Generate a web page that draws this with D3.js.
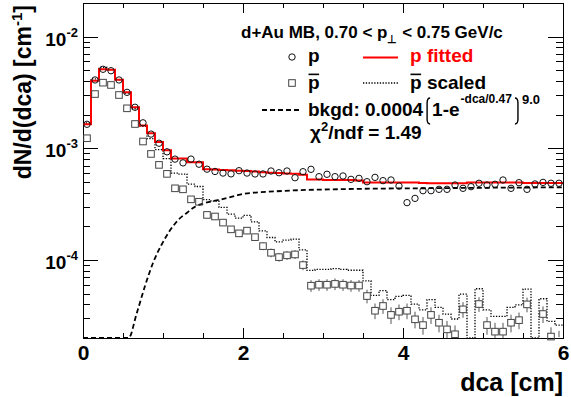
<!DOCTYPE html>
<html>
<head>
<meta charset="utf-8">
<style>
body { margin: 0; background: #fff; }
svg { display: block; }
text { font-family: "Liberation Sans", Arial, Helvetica, sans-serif; font-weight: bold; fill: #000; }
</style>
</head>
<body>
<script src="https://d3js.org/d3.v7.min.js"></script>
<script>

// 60 bins of 0.1 cm between 0 and 6 cm
var binWidth = 0.1;

// protons (open circles)
var pVals = [1.64e-3, 4.09e-3, 5.1e-3, 4.95e-3, 4.09e-3, 3.17e-3, 2.33e-3, 1.69e-3, 1.34e-3, 1.11e-3,
             9.3e-4, 8.0e-4, 7.4e-4, 8.0e-4, 7.2e-4, 6.5e-4, 6.2e-4, 6.0e-4, 5.9e-4, 6.3e-4,
             6.0e-4, 5.89e-4, 5.89e-4, 6.26e-4, 6.04e-4, 6.26e-4, 5.45e-4, 6.17e-4, 6.48e-4, 5.57e-4,
             5.85e-4, 5.57e-4, 5.65e-4, 5.27e-4, 5.38e-4, 5.02e-4, 5.49e-4, 5.13e-4, 5.2e-4, 4.59e-4,
             3.26e-4, 3.56e-4, 4.17e-4, 4.17e-4, 4.29e-4, 4.29e-4, 4.69e-4, 4.38e-4, 4.53e-4, 4.86e-4,
             4.69e-4, 4.76e-4, 5.2e-4, 4.38e-4, 4.92e-4, 4.29e-4, 4.79e-4, 4.95e-4, 4.86e-4, 4.86e-4];

// fitted proton histogram (red)
var pFit = [1.64e-3, 4.03e-3, 5.1e-3, 5.05e-3, 4.1e-3, 3.17e-3, 2.33e-3, 1.6e-3, 1.36e-3, 1.14e-3,
            9.6e-4, 8.1e-4, 8.1e-4, 7.5e-4, 7.5e-4, 6.5e-4, 6.45e-4, 6.4e-4, 6.35e-4, 6.3e-4,
            6.25e-4, 6.2e-4, 6.1e-4, 6.05e-4, 6.0e-4, 5.95e-4, 5.9e-4, 5.8e-4, 5.25e-4, 5.25e-4,
            5.2e-4, 5.2e-4, 5.2e-4, 5.2e-4, 5.15e-4, 4.95e-4, 4.95e-4, 4.95e-4, 4.95e-4, 4.95e-4,
            4.95e-4, 4.95e-4, 4.9e-4, 4.85e-4, 4.85e-4, 4.85e-4, 4.85e-4, 4.85e-4, 4.95e-4, 4.95e-4,
            4.95e-4, 4.95e-4, 4.95e-4, 4.95e-4, 4.95e-4, 4.9e-4, 4.9e-4, 4.9e-4, 4.9e-4, 4.9e-4];

// antiprotons (open squares) and their relative errors
var pbarVals = [1.23e-3, 3.06e-3, 3.87e-3, 3.69e-3, 3.0e-3, 2.28e-3, 1.65e-3, 1.15e-3, 8.9e-4, 7.1e-4,
                5.9e-4, 4.38e-4, 4.29e-4, 3.49e-4, 3.32e-4, 2.53e-4, 2.45e-4, 2.16e-4, 1.88e-4, 1.73e-4,
                1.83e-4, 1.6e-4, 1.33e-4, 1.16e-4, 1.06e-4, 1.1e-4, 1.12e-4, 9.0e-5, 5.88e-5, 6.0e-5,
                6.0e-5, 6.1e-5, 6.0e-5, 5.9e-5, 5.9e-5, 4.75e-5, 3.51e-5, 3.87e-5, 3.22e-5, 3.44e-5,
                3.51e-5, 2.94e-5, 2.61e-5, 3.22e-5, 2.74e-5, 2.39e-5, 2.16e-5, 3.61e-5, 1.2e-5, 4.03e-5,
                2.61e-5, 2.28e-5, 2.28e-5, 2.74e-5, 2.89e-5, 4.0e-5, 1.3e-5, 3.28e-5, 2.06e-5, 1.9e-5];
var pbarRelErr = [0.03, 0.02, 0.02, 0.02, 0.02, 0.02, 0.03, 0.03, 0.03, 0.04,
                  0.04, 0.05, 0.05, 0.05, 0.05, 0.06, 0.06, 0.06, 0.07, 0.07,
                  0.07, 0.07, 0.08, 0.09, 0.09, 0.09, 0.09, 0.10, 0.12, 0.12,
                  0.12, 0.12, 0.12, 0.12, 0.12, 0.14, 0.16, 0.15, 0.17, 0.16,
                  0.16, 0.17, 0.18, 0.17, 0.18, 0.19, 0.20, 0.16, 0.25, 0.15,
                  0.18, 0.20, 0.20, 0.18, 0.17, 0.15, 0.24, 0.17, 0.21, 0.22];
// factor of the dotted "pbar scaled" histogram
var pbarScale = 1.37;

// background curve
var bkgdX = [0, 0.5, 0.57, 0.67, 0.78, 0.88, 0.98, 1.09, 1.19, 1.3, 1.4, 1.5, 1.7, 1.9, 2.0, 2.5, 3.2, 4.5, 6.0];
var bkgdY = [1e-6, 1.2e-5, 2e-5, 3.3e-5, 6.0e-5, 9.6e-5, 1.36e-4, 1.85e-4, 2.28e-4, 2.65e-4, 3.0e-4, 3.2e-4,
             3.45e-4, 3.75e-4, 3.9e-4, 4.15e-4, 4.3e-4, 4.4e-4, 4.47e-4];

var xMajor = [0, 2, 4, 6];
var yMajor = [1e-2, 1e-3, 1e-4];
var yMajorExp = ["-2", "-3", "-4"];

var width = 571,
    height = 397,
    margin = {top: 3, right: 8, bottom: 59, left: 83};
var x0 = margin.left, x1 = width - margin.right,
    y0 = margin.top, y1 = height - margin.bottom;

var svg = d3.select("body").append("svg")
    .attr("width", width)
    .attr("height", height);

var x = d3.scaleLinear().domain([0, 6]).range([x0, x1]);
var y = d3.scaleLog().domain([2e-5, 2e-2]).range([y1, y0]);
var yc = y.copy().clamp(true);

svg.append("clipPath").attr("id", "clip")
  .append("rect").attr("x", x0).attr("y", y0).attr("width", x1 - x0).attr("height", y1 - y0);

var xMinor = d3.range(0, 6.001, 0.5).filter(function(d) { return xMajor.indexOf(d) < 0; });
var yMinor = [];
[1e-5, 1e-4, 1e-3].forEach(function(dec) {
  for (var k = 2; k <= 9; k++) {
    var v = dec * k;
    if (v > 2.01e-5 && v < 1.99e-2) yMinor.push(v);
  }
});

// ---- axes ----
function noDomain(g) { g.select(".domain").remove(); }

svg.append("g").attr("transform", "translate(0," + y1 + ")")
    .call(d3.axisBottom(x).tickValues(xMajor).tickSizeInner(-10).tickSizeOuter(0).tickPadding(7)
      .tickFormat(d3.format("d")))
    .call(noDomain)
    .call(function(g) {
      g.selectAll("text").attr("font-size", 21).attr("font-family", null);
    });
svg.append("g").attr("transform", "translate(0," + y1 + ")")
    .call(d3.axisBottom(x).tickValues(xMinor).tickSizeInner(-5).tickSizeOuter(0).tickFormat(""))
    .call(noDomain);
svg.append("g").attr("transform", "translate(0," + y0 + ")")
    .call(d3.axisTop(x).tickValues(xMajor).tickSizeInner(-10).tickSizeOuter(0).tickFormat(""))
    .call(noDomain);
svg.append("g").attr("transform", "translate(0," + y0 + ")")
    .call(d3.axisTop(x).tickValues(xMinor).tickSizeInner(-5).tickSizeOuter(0).tickFormat(""))
    .call(noDomain);

svg.append("g").attr("transform", "translate(" + x0 + ",0)")
    .call(d3.axisLeft(y).tickValues(yMajor).tickSizeInner(-15).tickSizeOuter(0).tickFormat(""))
    .call(noDomain);
svg.append("g").attr("transform", "translate(" + x0 + ",0)")
    .call(d3.axisLeft(y).tickValues(yMinor).tickSizeInner(-7).tickSizeOuter(0).tickFormat(""))
    .call(noDomain);
svg.append("g").attr("transform", "translate(" + x1 + ",0)")
    .call(d3.axisRight(y).tickValues(yMajor).tickSizeInner(-15).tickSizeOuter(0).tickFormat(""))
    .call(noDomain);
svg.append("g").attr("transform", "translate(" + x1 + ",0)")
    .call(d3.axisRight(y).tickValues(yMinor).tickSizeInner(-7).tickSizeOuter(0).tickFormat(""))
    .call(noDomain);

svg.selectAll(".tick line").attr("stroke", "#000").attr("shape-rendering", "crispEdges");

// log tick labels 10^-n
yMajor.forEach(function(v, i) {
  var t = svg.append("text")
      .attr("x", x0 - 5)
      .attr("y", y(v) + 9)
      .attr("text-anchor", "end")
      .attr("font-size", 19);
  t.append("tspan").text("10");
  t.append("tspan").attr("dy", -9).attr("font-size", 13).text(yMajorExp[i]);
});

// frame
svg.append("rect")
    .attr("x", x0).attr("y", y0)
    .attr("width", x1 - x0).attr("height", y1 - y0)
    .attr("fill", "none").attr("stroke", "#000").attr("stroke-width", 1)
    .attr("shape-rendering", "crispEdges");

// axis titles
svg.append("text")
    .attr("x", x1).attr("y", 391)
    .attr("text-anchor", "end")
    .attr("font-size", 25)
    .text("dca [cm]");

var yTitle = svg.append("text")
    .attr("transform", "translate(31,5) rotate(-90)")
    .attr("text-anchor", "end")
    .attr("font-size", 23);
yTitle.append("tspan").text("dN/d(dca) [cm");
yTitle.append("tspan").attr("dy", -9).attr("font-size", 15).text("-1");
yTitle.append("tspan").attr("dy", 9).text("]");

// ---- data ----
var plot = svg.append("g").attr("clip-path", "url(#clip)");

function stepPoints(vals) {
  var pts = vals.map(function(v, i) { return [i * binWidth, v]; });
  pts.push([vals.length * binWidth, vals[vals.length - 1]]);
  return pts;
}

var stepLine = d3.line()
    .x(function(d) { return x(d[0]); })
    .y(function(d) { return yc(d[1]); })
    .curve(d3.curveStepAfter);

// background (dashed)
plot.append("path")
    .datum(bkgdX.map(function(d, i) { return [d, bkgdY[i]]; }))
    .attr("fill", "none")
    .attr("stroke", "#000")
    .attr("stroke-width", 1.8)
    .attr("stroke-dasharray", "5,3")
    .attr("d", d3.line()
      .x(function(d) { return x(d[0]); })
      .y(function(d) { return yc(d[1]); })
      .curve(d3.curveMonotoneX));

// pbar scaled (dotted)
plot.append("path")
    .datum(stepPoints(pbarVals.map(function(v) { return v * pbarScale; })))
    .attr("fill", "none")
    .attr("stroke", "#000")
    .attr("stroke-width", 1.3)
    .attr("stroke-dasharray", "1.3,1.5")
    .attr("d", stepLine);

// pbar error bars
var sq = 3.3;
pbarVals.forEach(function(v, i) {
  var cx = x((i + 0.5) * binWidth),
      cy = y(v),
      hi = y(v * (1 + pbarRelErr[i])),
      lo = y(v * (1 - pbarRelErr[i]));
  if (hi < cy - sq) {
    plot.append("line").attr("x1", cx).attr("x2", cx).attr("y1", hi).attr("y2", cy - sq)
      .attr("stroke", "#555").attr("stroke-width", 1);
  }
  if (lo > cy + sq) {
    plot.append("line").attr("x1", cx).attr("x2", cx).attr("y1", cy + sq).attr("y2", lo)
      .attr("stroke", "#555").attr("stroke-width", 1);
  }
});

// pbar squares
svg.append("g").selectAll("rect")
    .data(pbarVals.map(function(v, i) { return [(i + 0.5) * binWidth, v]; })
      .filter(function(d) { return d[1] >= 2e-5; }))
  .enter().append("rect")
    .attr("x", function(d) { return x(d[0]) - sq; })
    .attr("y", function(d) { return y(d[1]) - sq; })
    .attr("width", 2 * sq).attr("height", 2 * sq)
    .attr("fill", "none")
    .attr("stroke", "#444")
    .attr("stroke-width", 1);

// fitted p (red)
plot.append("path")
    .datum(stepPoints(pFit))
    .attr("fill", "none")
    .attr("stroke", "#ff0000")
    .attr("stroke-width", 2)
    .attr("d", stepLine);

// p circles
svg.append("g").selectAll("circle")
    .data(pVals.map(function(v, i) { return [(i + 0.5) * binWidth, v]; }))
  .enter().append("circle")
    .attr("cx", function(d) { return x(d[0]); })
    .attr("cy", function(d) { return y(d[1]); })
    .attr("r", 3.2)
    .attr("fill", "none")
    .attr("stroke", "#111")
    .attr("stroke-width", 1);

// ---- title and legend ----
var title = svg.append("text").attr("x", 241).attr("y", 38).attr("font-size", 17);
title.append("tspan").text("d+Au MB, 0.70 < p");
title.append("tspan").attr("dy", 5).attr("font-size", 11).text("\u22a5");
title.append("tspan").attr("dy", -5).text(" < 0.75 GeV/c");

var legFont = 19;

// row 1
svg.append("circle").attr("cx", 292).attr("cy", 57).attr("r", 3.2)
    .attr("fill", "none").attr("stroke", "#111");
svg.append("text").attr("x", 308).attr("y", 62).attr("font-size", legFont).text("p");
svg.append("line").attr("x1", 363).attr("x2", 398).attr("y1", 57.5).attr("y2", 57.5)
    .attr("stroke", "#ff0000").attr("stroke-width", 2);
svg.append("text").attr("x", 410).attr("y", 62).attr("font-size", legFont)
    .style("fill", "#ff0000").text("p fitted");

// row 2
svg.append("rect").attr("x", 292 - sq).attr("y", 83 - sq).attr("width", 2 * sq).attr("height", 2 * sq)
    .attr("fill", "none").attr("stroke", "#444");
function pbarText(xp, yp, rest) {
  var t = svg.append("text").attr("x", xp).attr("y", yp).attr("font-size", legFont).text("p" + rest);
  var w = legFont * 0.611;
  svg.append("line").attr("x1", xp + 0.5).attr("x2", xp + w - 0.5)
      .attr("y1", yp - legFont * 0.77).attr("y2", yp - legFont * 0.77)
      .attr("stroke", "#000").attr("stroke-width", 1.6);
  return t;
}
pbarText(308, 89, "");
svg.append("line").attr("x1", 363).attr("x2", 398).attr("y1", 83).attr("y2", 83)
    .attr("stroke", "#000").attr("stroke-width", 1.3).attr("stroke-dasharray", "1.3,1.5");
pbarText(410, 89, " scaled");

// row 3
svg.append("line").attr("x1", 262).attr("x2", 300).attr("y1", 110).attr("y2", 110)
    .attr("stroke", "#000").attr("stroke-width", 1.8).attr("stroke-dasharray", "5,3");
var b1 = svg.append("text").attr("x", 308).attr("y", 116).attr("font-size", legFont).text("bkgd: 0.0004");
var cx3 = 308 + b1.node().getComputedTextLength() + 3;
function bracket(xb, dir) {
  var top = 98, bot = 124, r = 3;
  svg.append("path")
      .attr("d", "M" + (xb + dir * r) + "," + top + " Q" + xb + "," + top + " " + xb + "," + (top + r + 2) +
                 " L" + xb + "," + (bot - r - 2) + " Q" + xb + "," + bot + " " + (xb + dir * r) + "," + bot)
      .attr("fill", "none").attr("stroke", "#000").attr("stroke-width", 1.4);
}
bracket(cx3 + 1, 1);
cx3 += 6;
var b2 = svg.append("text").attr("x", cx3).attr("y", 116).attr("font-size", legFont).text("1-e");
cx3 += b2.node().getComputedTextLength() + 1;
var b3 = svg.append("text").attr("x", cx3).attr("y", 103).attr("font-size", 12).text("-dca/0.47");
cx3 += b3.node().getComputedTextLength() + 6;
bracket(cx3, -1);
svg.append("text").attr("x", cx3 + 4).attr("y", 104).attr("font-size", 13).text("9.0");

// row 4
var chi = svg.append("text").attr("x", 310).attr("y", 139).attr("font-size", legFont);
chi.append("tspan").text("\u03c7");
chi.append("tspan").attr("dy", -8).attr("font-size", 13).text("2");
chi.append("tspan").attr("dy", 8).text("/ndf = 1.49");

</script>
</body>
</html>
